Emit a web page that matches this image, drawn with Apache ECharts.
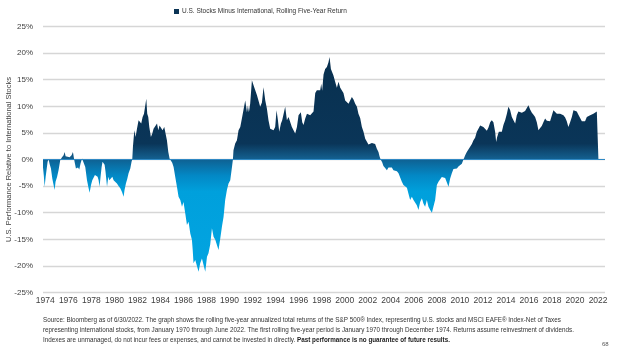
<!DOCTYPE html>
<html>
<head>
<meta charset="utf-8">
<script src="https://cdn.jsdelivr.net/npm/echarts@6/dist/echarts.min.js"></script>
<style>
  html, body { margin: 0; padding: 0; background: #ffffff; }
  #chart { width: 624px; height: 347px; }
</style>
</head>
<body>
<div id="chart"></div>
<script>
// Rolling five-year annualized return of U.S. stocks minus international stocks (%)
const seriesName = 'U.S. Stocks Minus International, Rolling Five-Year Return';

// Time position of each reading, in decimal years
const years = [
  1973.80, 1973.87, 1973.94, 1974.03, 1974.20, 1974.29, 1974.37, 1974.49, 1974.61, 1974.72,
  1974.81, 1974.89, 1975.02, 1975.15, 1975.30, 1975.45, 1975.59, 1975.68, 1975.76, 1975.88,
  1976.11, 1976.28, 1976.40, 1976.46, 1976.54, 1976.66, 1976.75, 1976.84, 1976.95, 1977.06,
  1977.19, 1977.27, 1977.36, 1977.47, 1977.62, 1977.76, 1977.85, 1977.97, 1978.08, 1978.19,
  1978.31, 1978.43, 1978.54, 1978.63, 1978.71, 1978.80, 1978.89, 1978.97, 1979.06, 1979.15,
  1979.23, 1979.36, 1979.47, 1979.56, 1979.64, 1979.73, 1979.82, 1979.93, 1980.08, 1980.22,
  1980.36, 1980.51, 1980.66, 1980.80, 1980.88, 1981.00, 1981.12, 1981.23, 1981.38, 1981.49,
  1981.55, 1981.61, 1981.73, 1981.84, 1981.96, 1982.10, 1982.22, 1982.33, 1982.45, 1982.57,
  1982.68, 1982.77, 1982.85, 1982.94, 1983.03, 1983.17, 1983.29, 1983.40, 1983.55, 1983.70,
  1983.81, 1983.92, 1984.04, 1984.18, 1984.33, 1984.44, 1984.56, 1984.68, 1984.79, 1984.89,
  1985.02, 1985.14, 1985.28, 1985.43, 1985.57, 1985.72, 1985.87, 1986.00, 1986.15, 1986.30,
  1986.44, 1986.59, 1986.73, 1986.80, 1986.87, 1987.02, 1987.17, 1987.31, 1987.45, 1987.60,
  1987.74, 1987.89, 1988.04, 1988.17, 1988.32, 1988.47, 1988.61, 1988.76, 1988.90, 1989.04,
  1989.19, 1989.34, 1989.48, 1989.62, 1989.77, 1989.91, 1990.06, 1990.21, 1990.29, 1990.34,
  1990.49, 1990.64, 1990.78, 1990.93, 1991.07, 1991.21, 1991.36, 1991.51, 1991.59, 1991.68,
  1991.79, 1991.94, 1992.03, 1992.14, 1992.25, 1992.38, 1992.51, 1992.66, 1992.81, 1992.95,
  1993.10, 1993.24, 1993.38, 1993.53, 1993.68, 1993.82, 1993.96, 1994.08, 1994.20, 1994.31,
  1994.46, 1994.57, 1994.68, 1994.83, 1994.98, 1995.12, 1995.27, 1995.41, 1995.55, 1995.70,
  1995.85, 1995.99, 1996.13, 1996.19, 1996.31, 1996.42, 1996.57, 1996.72, 1996.85, 1997.00,
  1997.15, 1997.29, 1997.44, 1997.58, 1997.72, 1997.87, 1997.96, 1998.04, 1998.16, 1998.30,
  1998.45, 1998.59, 1998.68, 1998.80, 1998.91, 1999.02, 1999.17, 1999.32, 1999.46, 1999.61,
  1999.75, 1999.89, 2000.04, 2000.19, 2000.33, 2000.47, 2000.62, 2000.76, 2000.91, 2001.06,
  2001.19, 2001.34, 2001.49, 2001.63, 2001.78, 2001.92, 2002.06, 2002.21, 2002.36, 2002.50,
  2002.64, 2002.79, 2002.93, 2003.02, 2003.12, 2003.25, 2003.36, 2003.51, 2003.66, 2003.80,
  2003.95, 2004.09, 2004.23, 2004.38, 2004.53, 2004.67, 2004.81, 2004.96, 2005.10, 2005.25,
  2005.40, 2005.53, 2005.68, 2005.83, 2005.97, 2006.12, 2006.26, 2006.40, 2006.55, 2006.70,
  2006.84, 2006.98, 2007.13, 2007.27, 2007.42, 2007.57, 2007.70, 2007.85, 2008.00, 2008.14,
  2008.29, 2008.43, 2008.57, 2008.72, 2008.87, 2009.01, 2009.15, 2009.30, 2009.44, 2009.59,
  2009.74, 2009.87, 2010.02, 2010.17, 2010.31, 2010.46, 2010.60, 2010.74, 2010.89, 2011.04,
  2011.18, 2011.32, 2011.47, 2011.61, 2011.76, 2011.91, 2012.04, 2012.19, 2012.34, 2012.48,
  2012.63, 2012.77, 2012.91, 2013.06, 2013.15, 2013.23, 2013.38, 2013.52, 2013.64, 2013.78,
  2013.93, 2014.08, 2014.21, 2014.36, 2014.51, 2014.65, 2014.80, 2014.94, 2015.08, 2015.23,
  2015.38, 2015.52, 2015.66, 2015.81, 2015.95, 2016.10, 2016.25, 2016.39, 2016.53, 2016.68,
  2016.82, 2016.97, 2017.11, 2017.25, 2017.40, 2017.55, 2017.69, 2017.83, 2017.98, 2018.12,
  2018.27, 2018.42, 2018.55, 2018.70, 2018.85, 2018.99, 2019.14, 2019.28, 2019.42, 2019.57,
  2019.72, 2019.86, 2020.00, 2020.15, 2020.29, 2020.44, 2020.59, 2020.72, 2020.87, 2021.02,
  2021.16, 2021.31, 2021.45, 2021.59, 2021.74, 2021.89, 2022.03
];

// U.S. minus international return at each time position (%)
const spread = [
  -1.5, -3.0, -5.1, -3.3, -0.4, 0.0, -0.8, -1.7, -3.6, -4.8,
  -5.75, -4.2, -3.3, -2.0, -0.1, 0.4, 0.8, 1.4, 0.6, 0.4,
  0.4, 0.8, 1.4, 0.6, -0.4, -1.7, -2.0, -1.5, -1.9, -0.75,
  0.2, 0.5, -0.1, -1.4, -3.9, -5.4, -6.25, -4.8, -3.9, -3.6,
  -2.9, -2.6, -3.25, -3.9, -5.1, -3.25, -1.4, -0.4, -0.1, -1.0,
  -2.3, -5.1, -3.25, -3.9, -3.6, -4.2, -3.25, -3.9, -3.9, -4.5,
  -5.0, -5.4, -6.1, -7.0, -5.75, -4.5, -3.6, -2.6, -1.7, -0.4,
  0.0, 2.4, 5.5, 4.25, 5.8, 7.4, 7.7, 6.75, 8.0, 8.6,
  8.9, 11.4, 8.6, 8.0, 6.1, 4.25, 4.9, 5.8, 6.1, 6.75,
  5.5, 6.4, 6.1, 5.5, 6.1, 5.8, 3.6, 1.4, 0.2, 0.0,
  -0.6, -1.4, -3.25, -5.1, -7.0, -7.6, -8.9, -8.0, -10.1, -12.3,
  -11.7, -13.9, -15.1, -17.0, -19.5, -18.9, -19.2, -21.1, -19.5, -18.6,
  -18.9, -21.1, -18.3, -17.6, -16.0, -12.9, -14.5, -15.1, -15.1, -17.0,
  -14.9, -12.6, -10.75, -7.6, -5.75, -4.5, -3.9, -1.4, 0.0, 1.75,
  3.0, 3.6, 5.5, 6.1, 7.7, 7.4, 11.1, 8.9, 10.1, 8.9,
  10.5, 14.9, 14.6, 13.6, 13.3, 12.1, 11.1, 9.9, 10.7, 13.6,
  11.1, 9.6, 7.4, 5.8, 5.8, 5.5, 6.1, 9.25, 7.4, 5.2,
  6.75, 7.4, 7.7, 9.9, 7.4, 8.0, 8.0, 6.1, 6.1, 4.9,
  6.1, 8.3, 8.3, 8.9, 7.0, 6.5, 7.7, 8.6, 8.3, 8.3,
  8.6, 9.0, 12.5, 13.0, 13.3, 13.0, 14.25, 12.9, 16.0, 17.0,
  17.4, 18.3, 19.25, 17.0, 16.4, 15.8, 14.6, 13.5, 14.6, 13.5,
  13.8, 12.5, 11.1, 11.1, 10.5, 10.8, 11.75, 11.3, 10.5, 9.9,
  8.6, 7.8, 6.1, 5.2, 3.9, 3.6, 2.8, 2.7, 3.1, 3.0,
  2.9, 2.0, 1.4, 0.6, 0.0, -0.5, -1.2, -1.6, -2.0, -1.5,
  -1.2, -1.5, -2.0, -1.7, -2.2, -2.6, -2.5, -4.2, -4.8, -4.6,
  -5.3, -6.4, -7.6, -7.0, -7.6, -7.3, -8.6, -9.5, -8.0, -7.3,
  -8.3, -8.9, -7.6, -8.9, -9.5, -10.0, -8.9, -7.6, -4.8, -4.2,
  -3.9, -3.3, -3.6, -3.5, -4.3, -5.1, -3.6, -2.6, -1.8, -2.0,
  -1.7, -1.3, -1.2, -0.8, 0.0, 0.8, 1.4, 1.5, 2.4, 2.9,
  3.6, 4.1, 5.2, 5.8, 6.4, 6.3, 6.1, 6.0, 5.4, 6.0,
  7.0, 7.4, 7.0, 5.2, 3.3, 4.2, 5.2, 5.3, 5.2, 6.5,
  7.4, 8.6, 9.9, 9.3, 8.0, 7.4, 6.75, 8.3, 9.0, 9.0,
  8.8, 9.1, 9.1, 9.4, 10.2, 9.4, 8.8, 8.4, 8.0, 7.0,
  5.5, 5.9, 6.3, 7.0, 7.7, 7.3, 7.0, 7.2, 7.3, 9.25,
  9.1, 8.6, 8.8, 8.6, 8.8, 8.3, 7.9, 7.2, 6.1, 7.0,
  8.0, 9.25, 9.6, 9.0, 8.4, 7.8, 7.2, 7.4, 7.2, 8.0,
  7.8, 8.3, 8.3, 8.6, 8.9, 9.0, 9.0
];

// Axis tick labels
const yearTicks = [1974, 1976, 1978, 1980, 1982, 1984, 1986, 1988, 1990, 1992, 1994, 1996,
  1998, 2000, 2002, 2004, 2006, 2008, 2010, 2012, 2014, 2016, 2018, 2020, 2022];
const pctTicks = [-25, -20, -15, -10, -5, 0, 5, 10, 15, 20, 25];

const axisTitle = 'U.S. Performance Relative to International Stocks';
const noteLines = [
  'Source: Bloomberg as of 6/30/2022. The graph shows the rolling five-year annualized total returns of the S&P 500\u00AE Index, representing U.S. stocks and MSCI EAFE\u00AE Index-Net of Taxes',
  'representing international stocks, from January 1970 through June 2022. The first rolling five-year period is January 1970 through December 1974. Returns assume reinvestment of dividends.',
  'Indexes are unmanaged, do not incur fees or expenses, and cannot be invested in directly. '
];
const noteBold = 'Past performance is no guarantee of future results.';
const pageNumber = '68';

const FONT = '"Liberation Sans", Arial, sans-serif';
const points = years.map((t, i) => [t, spread[i]]);

// Gradient stops keyed to values so that the colour shift sits on the zero line
const vMax = Math.max(...spread);
const vMin = Math.min(...spread);
const at = v => Math.min(1, Math.max(0, (vMax - v) / (vMax - vMin)));
const areaFill = new echarts.graphic.LinearGradient(0, 0, 0, 1, [
  { offset: 0, color: '#08304f' },
  { offset: at(3), color: '#0a3558' },
  { offset: at(0.3), color: '#135d8c' },
  { offset: at(-0.3), color: '#0d6598' },
  { offset: at(-3), color: '#0388c5' },
  { offset: at(-6), color: '#00a0dc' },
  { offset: 1, color: '#02a4e1' }
]);

const chart = echarts.init(document.getElementById('chart'), null, { renderer: 'canvas' });
chart.setOption({
  animation: false,
  backgroundColor: '#ffffff',
  textStyle: { fontFamily: FONT },
  legend: {
    top: 3,
    left: 169,
    icon: 'rect',
    itemWidth: 5,
    itemHeight: 5,
    itemGap: 4,
    textStyle: { fontSize: 6.5, color: '#333333', fontFamily: FONT, padding: [0, 0, 0, -2] },
    data: [seriesName]
  },
  grid: {
    left: 43, right: 19, top: 26.5, bottom: 54.5,
    containLabel: false,
    outerBoundsMode: 'none'
  },
  xAxis: {
    type: 'value',
    min: 1973.8,
    max: 2022.6,
    axisLine: { show: false },
    axisTick: { show: false },
    splitLine: { show: false },
    axisLabel: {
      customValues: yearTicks,
      formatter: v => String(Math.round(v)),
      fontSize: 8.5,
      color: '#404040',
      margin: 4,
      fontFamily: FONT
    }
  },
  yAxis: {
    type: 'value',
    min: pctTicks[0],
    max: pctTicks[pctTicks.length - 1],
    interval: 5,
    name: axisTitle,
    nameLocation: 'middle',
    nameGap: 30,
    nameRotate: 90,
    nameMoveOverlap: false,
    nameTextStyle: { fontSize: 7.5, color: '#404040', fontFamily: FONT },
    axisLine: { show: false },
    axisTick: { show: false },
    axisLabel: {
      formatter: '{value}%',
      fontSize: 8,
      color: '#404040',
      margin: 10,
      fontFamily: FONT
    },
    splitLine: { lineStyle: { color: '#d6d6d6', width: 1.4 } }
  },
  series: [{
    name: seriesName,
    type: 'line',
    data: points,
    showSymbol: false,
    symbol: 'none',
    color: '#0b3455',
    itemStyle: { color: '#0b3455' },
    lineStyle: { width: 0 },
    areaStyle: { color: areaFill, opacity: 1, origin: 0 },
    markLine: {
      silent: true,
      symbol: ['none', 'none'],
      label: { show: false },
      lineStyle: { color: '#3089c4', width: 1, type: 'solid' },
      data: [{ yAxis: 0 }]
    }
  }],
  graphic: [
    {
      type: 'text', left: 43, top: 317,
      style: { text: noteLines[0], font: '6.3px ' + FONT, fill: '#333333' }
    },
    {
      type: 'text', left: 43, top: 327,
      style: { text: noteLines[1], font: '6.3px ' + FONT, fill: '#333333' }
    },
    {
      type: 'text', left: 43, top: 337,
      style: {
        text: '{n|' + noteLines[2] + '}{b|' + noteBold + '}',
        rich: {
          n: { font: '6.3px ' + FONT, fill: '#333333' },
          b: { font: 'bold 6.3px ' + FONT, fill: '#222222' }
        }
      }
    },
    {
      type: 'text', left: 602, top: 341,
      style: { text: pageNumber, font: '6px ' + FONT, fill: '#555555' }
    }
  ]
});
</script>
</body>
</html>
